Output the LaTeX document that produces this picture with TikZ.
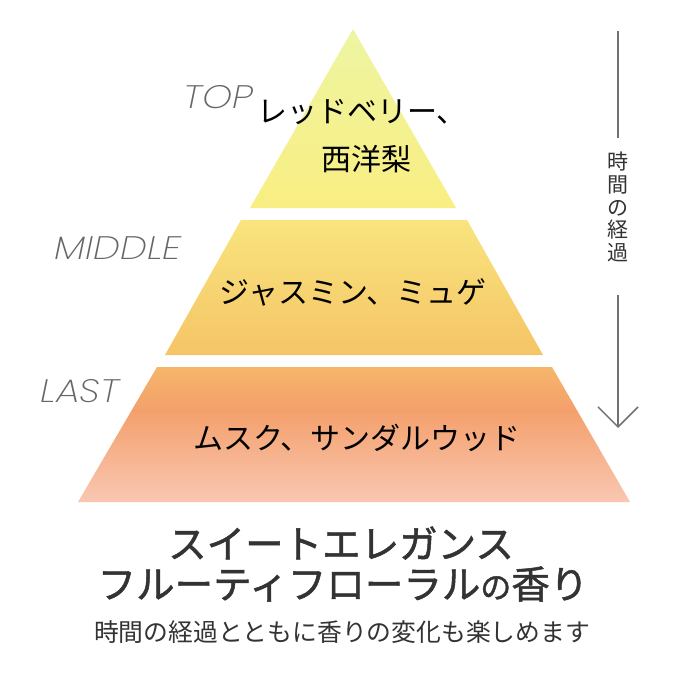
\documentclass[tikz,border=0pt]{standalone}
\usepackage{fontspec}
\newfontfamily\jp{Noto Sans CJK JP}
\newfontfamily\jpb[FakeBold=1.3]{Noto Sans CJK JP}
\newfontfamily\labfont{Poppins}[UprightFont={* ExtraLight Italic}]
\usetikzlibrary{arrows.meta}
\definecolor{TT}{HTML}{EEF5A2}
\definecolor{TB}{HTML}{F9EE82}
\definecolor{MT}{HTML}{F9E47E}
\definecolor{MB}{HTML}{F5C466}
\definecolor{LT}{HTML}{F5B66A}
\definecolor{LM}{HTML}{F4A06C}
\definecolor{LB}{HTML}{F9C7B2}
\definecolor{labgray}{HTML}{666666}
\definecolor{arrgray}{HTML}{727272}
\definecolor{txtdark}{HTML}{333333}
\pgfdeclareverticalshading{lastsh}{100bp}{color(0bp)=(LB); color(25bp)=(LB); color(59bp)=(LM); color(75bp)=(LT); color(100bp)=(LT)}
\newcommand{\widelab}[1]{\scalebox{1.17}[1]{#1}}
\tikzset{
  tiertext/.style={inner sep=0pt, text=black, font=\jp\fontsize{30}{36}\selectfont},
  tierlabel/.style={inner sep=0pt, text=labgray, font=\labfont\fontsize{32.5}{38}\selectfont},
  titletext/.style={inner sep=0pt, text=txtdark, font=\jpb\fontsize{38.5}{44}\selectfont},
  subtext/.style={inner sep=0pt, text=txtdark, font=\jp\fontsize{24.8}{30}\selectfont},
  vtext/.style={inner sep=0pt, text=txtdark, align=center, font=\jp\fontsize{21}{22.75}\selectfont},
  timeline/.style={draw=arrgray, line width=1.8pt}
}
\begin{document}
\begin{tikzpicture}[x=1pt,y=-1pt]
\fill[white] (0,0) rectangle (680,680);
\useasboundingbox (0,0) rectangle (680,680);
% tiers
\shade[top color=TT, bottom color=TB] (353,29) -- (456,208) -- (250,208) -- cycle;
\shade[top color=MT, bottom color=MB] (241,220) -- (467,220) -- (543,355) -- (165,355) -- cycle;
\shade[shading=lastsh] (157,367) -- (552,367) -- (630,502) -- (78,502) -- cycle;
% tier texts
\node[tiertext] (t1) at (362,112) {レッドベリー、};
\node[tiertext] (t2) at (366,159) {西洋梨};
\node[tiertext] (m1) at (353,292) {ジャスミン、ミュゲ};
\node[tiertext] (l1) at (357,438) {ムスク、サンダルウッド};
% labels
\node[tierlabel] (ltop) at (218,97) {\widelab{TOP}};
\node[tierlabel] (lmid) at (118,248) {\widelab{MIDDLE}};
\node[tierlabel] (llast) at (80,391) {\widelab{LAST}};
% time arrow
\coordinate (a1) at (618,31);
\coordinate (a2) at (618,138);
\coordinate (a3) at (618,295);
\coordinate (a4) at (618,428);
\node[vtext] (tv) at (618,207) {時\\間\\の\\経\\過};
\draw[timeline] (a1) -- (a2);
\draw[timeline, -{Straight Barb[length=20pt,width=40pt,line width=1.5pt]}] (a3) -- (a4);
% title
\node[titletext] (ti1) at (341,543) {スイートエレガンス};
\node[titletext] (ti2) at (343,584) {フルーティフローラル{\fontsize{31}{40}\selectfont の}香り};
\node[subtext] (sub) at (342,632) {時間の経過とともに香りの変化も楽しめます};
\end{tikzpicture}
\end{document}
